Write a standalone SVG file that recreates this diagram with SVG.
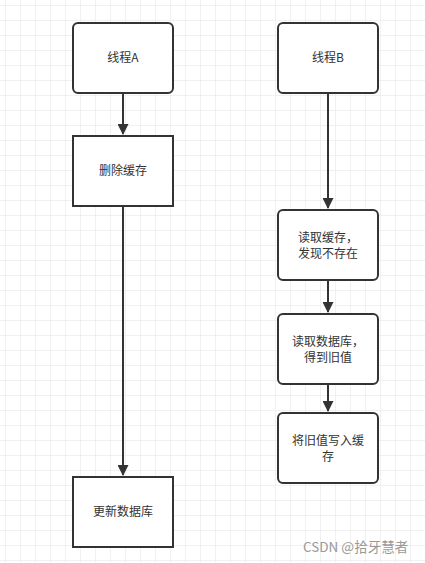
<svg xmlns="http://www.w3.org/2000/svg" width="425" height="563" viewBox="0 0 425 563">
<defs>
<pattern id="grid" x="5" y="5" width="15" height="15" patternUnits="userSpaceOnUse">
<path d="M0 0H15M0 0V15" fill="none" stroke="#e3e3e3" stroke-width="1"/>
</pattern>
<marker id="arr" markerWidth="11" markerHeight="11" refX="10" refY="5.5" orient="auto" markerUnits="userSpaceOnUse">
<path d="M0,0 L11,5.5 L0,11 Z" fill="#333"/>
</marker>
<style>
.box{fill:#fff;stroke:#333;stroke-width:2}
.t{font-family:"Noto Sans CJK SC","Liberation Sans",sans-serif;font-size:12px;fill:#333;text-anchor:middle}
.c{fill:none;stroke:#333;stroke-width:2}
</style>
</defs>
<rect width="425" height="563" fill="#fff"/>
<rect width="425" height="563" fill="url(#grid)"/>
<g id="connectors">
<path class="c" d="M123 93V134" marker-end="url(#arr)"/>
<path class="c" d="M123 206V475" marker-end="url(#arr)"/>
<path class="c" d="M328 93V208" marker-end="url(#arr)"/>
<path class="c" d="M328 280V312" marker-end="url(#arr)"/>
<path class="c" d="M328 384V411" marker-end="url(#arr)"/>
</g>
<g id="threadA"><rect class="box" x="73" y="23" width="100" height="70" rx="5"/><text class="t" x="123" y="62">线程A</text></g>
<g id="threadB"><rect class="box" x="278" y="23" width="100" height="70" rx="5"/><text class="t" x="328" y="62">线程B</text></g>
<g id="delCache"><rect class="box" x="73" y="136" width="100" height="70"/><text class="t" x="123" y="175">删除缓存</text></g>
<g id="readCache"><rect class="box" x="278" y="210" width="100" height="70" rx="5"/><text class="t" x="328" y="242">读取缓存，</text><text class="t" x="328" y="258">发现不存在</text></g>
<g id="readDb"><rect class="box" x="278" y="314" width="100" height="70" rx="5"/><text class="t" x="328" y="346">读取数据库，</text><text class="t" x="328" y="362">得到旧值</text></g>
<g id="writeCache"><rect class="box" x="278" y="413" width="100" height="70" rx="5"/><text class="t" x="328" y="445">将旧值写入缓</text><text class="t" x="328" y="461">存</text></g>
<g id="updateDb"><rect class="box" x="73" y="477" width="100" height="70"/><text class="t" x="123" y="516">更新数据库</text></g>
<text x="303" y="552" font-family="'Noto Sans CJK SC','Liberation Sans',sans-serif" font-size="13.5" fill="#999">CSDN @拾牙慧者</text>
</svg>
